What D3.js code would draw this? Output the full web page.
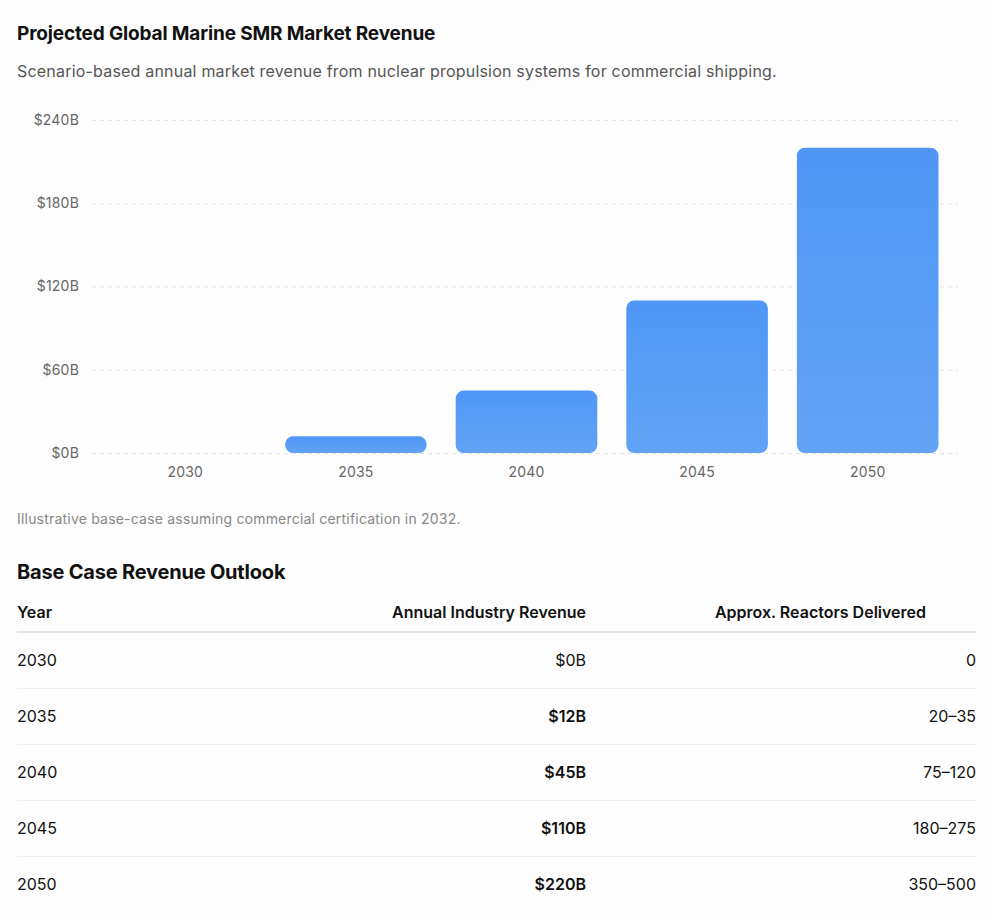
<!DOCTYPE html>
<html>
<head>
<meta charset="utf-8">
<script src="https://cdn.jsdelivr.net/npm/d3@7"></script>
<style>
  body { margin: 0; background: #fdfdfd; font-family: Inter, "Noto Sans", sans-serif; color: #111; width: 992px; }
  #title { margin: 0; padding: 22px 0 0 17px; font-size: 19px; line-height: 24px; font-weight: 700; letter-spacing: -0.15px; }
  #subtitle { margin: 14px 0 0 17px; font-size: 16px; line-height: 22px; color: #555; letter-spacing: 0.2px; }
  #chart { display: block; margin-top: 18px; }
  #note { margin: 14px 0 0 17px; font-size: 14px; line-height: 20px; color: #888; letter-spacing: 0.2px; }
  #tableTitle { margin: 30px 0 0 17px; font-size: 20px; line-height: 26px; font-weight: 700; letter-spacing: -0.2px; }
  table { margin: 5px 0 0 17px; width: 959px; border-collapse: collapse; font-size: 16px; line-height: 19px; }
  th { font-weight: 600; height: 32px; vertical-align: bottom; padding: 0 0 9px 0; border-bottom: 2px solid #e6e6e6; }
  td { height: 55px; border-bottom: 1px solid #efefef; padding: 0; }
  tr:last-child td { border-bottom: none; }
  .l { text-align: left; }
  .r { text-align: right; }
  .b { font-weight: 600; }
</style>
</head>
<body>
<h1 id="title">Projected Global Marine SMR Market Revenue</h1>
<div id="subtitle">Scenario-based annual market revenue from nuclear propulsion systems for commercial shipping.</div>
<svg id="chart"></svg>
<div id="note">Illustrative base-case assuming commercial certification in 2032.</div>
<div id="tableTitle">Base Case Revenue Outlook</div>
<table id="outlook"></table>
<script>
// chart data
let years = ["2030", "2035", "2040", "2045", "2050"];
let revenue = [0, 12, 45, 110, 220]; // $B
let yTicks = [0, 60, 120, 180, 240];

// table data
let tableHeaders = ["Year", "Annual Industry Revenue", "Approx. Reactors Delivered"];
let revenueLabels = ["$0B", "$12B", "$45B", "$110B", "$220B"];
let reactors = ["0", "20–35", "75–120", "180–275", "350–500"];

const width = 992;
const height = 395;

let svg = d3.select("#chart")
    .attr("width", width)
    .attr("height", height);

// bar gradient
let grad = svg.append("defs").append("linearGradient")
    .attr("id", "barGrad")
    .attr("x1", 0).attr("y1", 0).attr("x2", 0).attr("y2", 1);
grad.append("stop").attr("offset", "0%").attr("stop-color", "#4f97f7");
grad.append("stop").attr("offset", "100%").attr("stop-color", "#62a3f5");

const x = d3.scaleBand(years, [100, 953]).paddingInner(0.17).paddingOuter(0.085);
const y = d3.scaleLinear([0, 240], [353, 20]);

// y axis with dashed grid
svg.append("g")
    .attr("transform", "translate(92,0)")
    .call(d3.axisLeft(y).tickValues(yTicks).tickFormat(d => "$" + d + "B").tickSize(0).tickPadding(13))
    .call(g => g.select(".domain").remove())
    .call(g => g.selectAll(".tick line")
        .attr("x2", 958 - 92)
        .attr("stroke", "#e3e3e3")
        .attr("stroke-dasharray", "4,4"))
    .call(g => g.selectAll("text")
        .attr("fill", "#666")
        .attr("font-size", 14)
        .attr("letter-spacing", "0.2px")
        .attr("font-family", "Inter, 'Noto Sans', sans-serif"));

// x axis
svg.append("g")
    .attr("transform", "translate(0,353)")
    .call(d3.axisBottom(x).tickSize(0).tickPadding(14))
    .call(g => g.select(".domain").remove())
    .call(g => g.selectAll("text")
        .attr("fill", "#666")
        .attr("font-size", 14)
        .attr("letter-spacing", "0.2px")
        .attr("font-family", "Inter, 'Noto Sans', sans-serif"));

// bars
svg.append("g")
    .selectAll("rect")
    .data(years.map((yr, i) => ({ year: yr, value: revenue[i] })).filter(d => d.value > 0))
    .join("rect")
    .attr("x", d => x(d.year))
    .attr("y", d => y(d.value))
    .attr("width", x.bandwidth())
    .attr("height", d => y(0) - y(d.value))
    .attr("rx", 8)
    .attr("fill", "url(#barGrad)");

// table
let table = d3.select("#outlook");
table.append("thead").append("tr")
    .selectAll("th")
    .data(tableHeaders)
    .join("th")
    .attr("class", (d, i) => i === 0 ? "l" : "r")
    .style("width", (d, i) => i === 2 ? "340px" : (i === 0 ? "180px" : null))
    .style("padding-right", (d, i) => i === 2 ? "50px" : null)
    .text(d => d);

let rows = table.append("tbody")
    .selectAll("tr")
    .data(years)
    .join("tr");

rows.append("td").attr("class", "l").text(d => d);
rows.append("td").attr("class", (d, i) => revenue[i] > 0 ? "r b" : "r").text((d, i) => revenueLabels[i]);
rows.append("td").attr("class", "r").text((d, i) => reactors[i]);
</script>
</body>
</html>
